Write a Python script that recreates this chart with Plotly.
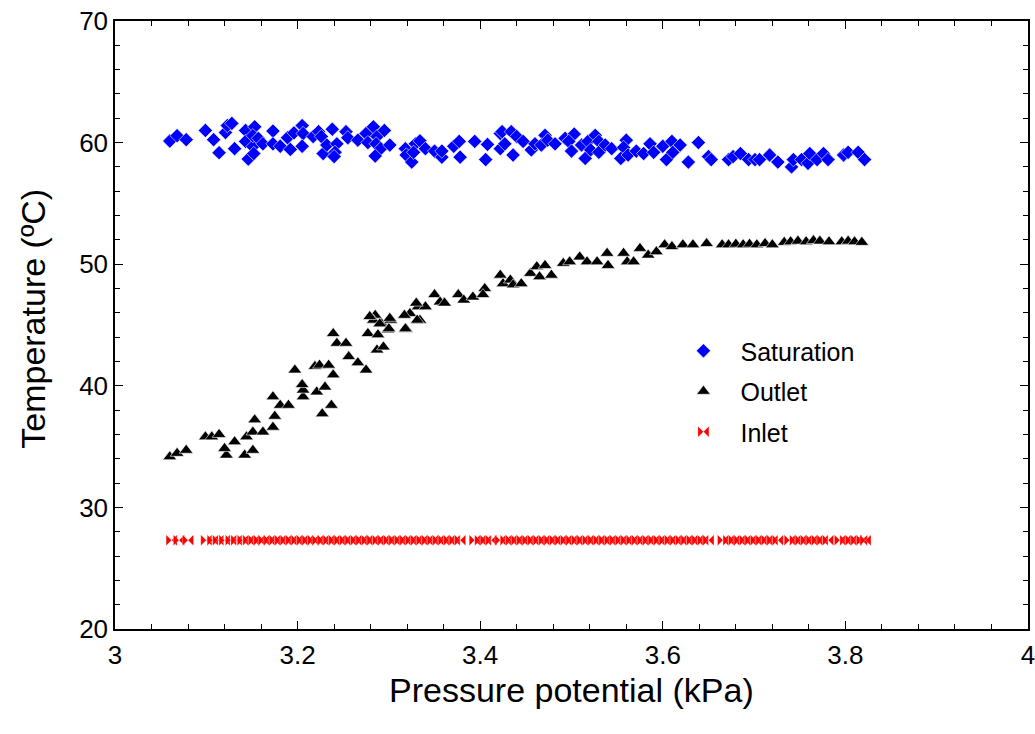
import plotly.graph_objects as go

# Saturation temperature (blue diamonds)
sat_x = [3.060, 3.068, 3.078, 3.099, 3.108, 3.114, 3.121, 3.123, 3.128, 3.131, 3.143, 3.143, 3.146, 3.151,
         3.152, 3.153, 3.151, 3.157, 3.162, 3.173, 3.173, 3.181, 3.189, 3.192, 3.196, 3.205, 3.206, 3.205,
         3.217, 3.223, 3.226, 3.228, 3.232, 3.238, 3.243, 3.241, 3.240, 3.253, 3.255, 3.266, 3.275, 3.283,
         3.277, 3.287, 3.295, 3.286, 3.291, 3.285, 3.301, 3.318, 3.319, 3.325, 3.329, 3.334, 3.327, 3.340,
         3.350, 3.358, 3.358, 3.371, 3.377, 3.378, 3.394, 3.406, 3.408, 3.422, 3.422, 3.424, 3.434, 3.427,
         3.436, 3.440, 3.447, 3.456, 3.460, 3.471, 3.467, 3.474, 3.482, 3.493, 3.503, 3.497, 3.500, 3.511,
         3.515, 3.518, 3.526, 3.521, 3.530, 3.530, 3.537, 3.544, 3.560, 3.557, 3.554, 3.562, 3.571, 3.579,
         3.586, 3.590, 3.600, 3.610, 3.604, 3.611, 3.619, 3.628, 3.639, 3.650, 3.653, 3.672, 3.677, 3.685,
         3.694, 3.701, 3.706, 3.717, 3.726, 3.741, 3.743, 3.752, 3.759, 3.761, 3.769, 3.776, 3.781, 3.798,
         3.803, 3.814, 3.821]
sat_y = [60.13, 60.57, 60.24, 61.00, 60.24, 59.17, 60.83, 61.40, 61.58, 59.50, 61.00, 60.10, 58.65, 59.67,
         59.10, 61.30, 60.57, 60.35, 59.90, 60.95, 59.90, 59.70, 60.40, 59.44, 60.80, 61.40, 60.75, 59.70,
         60.50, 60.90, 60.50, 59.10, 59.80, 61.10, 59.90, 59.20, 58.85, 60.90, 60.40, 60.20, 60.75, 61.30,
         60.00, 60.50, 61.00, 59.90, 59.50, 58.90, 59.80, 59.50, 58.98, 58.40, 59.90, 60.15, 59.20, 59.50,
         59.30, 58.80, 59.30, 59.70, 60.10, 58.80, 60.10, 58.60, 59.85, 60.75, 59.50, 60.90, 60.90, 59.90,
         58.98, 60.50, 60.10, 59.40, 59.90, 60.60, 59.80, 60.20, 59.90, 60.35, 60.70, 60.10, 59.30, 59.80,
         58.70, 60.10, 60.60, 59.40, 60.10, 59.20, 59.80, 59.50, 60.20, 59.60, 58.70, 58.98, 59.30, 59.10,
         59.90, 59.20, 59.70, 60.10, 58.60, 59.20, 59.80, 58.40, 60.00, 58.85, 58.60, 58.60, 58.85, 59.10,
         58.60, 58.60, 58.60, 58.98, 58.40, 58.00, 58.60, 58.60, 58.30, 59.10, 58.60, 59.10, 58.60, 58.98,
         59.20, 59.20, 58.60]

# Outlet temperature (black triangles)
out_x = [3.060, 3.068, 3.078, 3.099, 3.106, 3.114, 3.122, 3.120, 3.131, 3.142, 3.151, 3.144, 3.151, 3.162,
         3.153, 3.173, 3.175, 3.173, 3.181, 3.190, 3.197, 3.206, 3.206, 3.205, 3.221, 3.230, 3.227, 3.237,
         3.219, 3.224, 3.234, 3.239, 3.239, 3.243, 3.253, 3.256, 3.266, 3.275, 3.285, 3.283, 3.292, 3.302,
         3.277, 3.288, 3.299, 3.287, 3.294, 3.319, 3.323, 3.332, 3.334, 3.340, 3.360, 3.279, 3.290, 3.301,
         3.300, 3.318, 3.317, 3.330, 3.331, 3.350, 3.356, 3.361, 3.376, 3.382, 3.392, 3.405, 3.403, 3.422,
         3.425, 3.433, 3.436, 3.445, 3.455, 3.462, 3.471, 3.465, 3.478, 3.491, 3.498, 3.509, 3.517, 3.528,
         3.539, 3.540, 3.557, 3.561, 3.568, 3.575, 3.584, 3.593, 3.602, 3.610, 3.622, 3.633, 3.648, 3.665,
         3.672, 3.680, 3.688, 3.695, 3.703, 3.712, 3.720, 3.733, 3.740, 3.748, 3.757, 3.765, 3.772, 3.782,
         3.796, 3.803, 3.810, 3.818]
out_y = [34.17, 34.45, 34.70, 35.80, 35.80, 36.00, 34.30, 34.85, 35.40, 34.30, 34.70, 35.80, 36.20, 36.20,
         37.20, 36.60, 37.50, 39.10, 38.40, 38.40, 41.30, 39.10, 39.65, 40.10, 39.50, 39.90, 37.70, 38.40,
         41.60, 41.70, 41.70, 40.90, 44.30, 43.50, 43.50, 42.40, 41.90, 41.30, 45.80, 45.40, 45.10, 45.40,
         44.30, 44.20, 44.60, 42.95, 43.20, 44.65, 45.95, 46.50, 45.40, 46.50, 46.80, 45.70, 45.10, 45.55,
         44.70, 44.70, 45.80, 46.80, 45.40, 47.50, 46.90, 46.80, 47.50, 47.05, 47.30, 48.00, 47.50, 49.10,
         48.40, 48.70, 48.30, 48.40, 49.25, 49.80, 49.90, 48.97, 49.10, 50.07, 50.20, 50.60, 50.20, 50.20,
         50.90, 49.90, 50.90, 50.20, 50.20, 51.30, 50.75, 51.03, 51.60, 51.45, 51.60, 51.60, 51.70, 51.60,
         51.60, 51.65, 51.60, 51.65, 51.60, 51.70, 51.60, 51.80, 51.85, 51.90, 51.85, 51.95, 51.90, 51.85,
         51.85, 51.90, 51.85, 51.80]

# Inlet temperature (red bowties)
inlet_x = [3.062, 3.070, 3.080,
           3.100, 3.107, 3.113, 3.120, 3.127, 3.133, 3.140, 3.146, 3.152, 3.158, 3.163, 3.169, 3.175,
           3.181, 3.187, 3.193, 3.199, 3.205, 3.211, 3.217, 3.222, 3.228, 3.234, 3.240, 3.246, 3.252,
           3.258, 3.264, 3.270, 3.276, 3.282, 3.288, 3.294, 3.300, 3.306, 3.312, 3.318, 3.324, 3.330,
           3.336, 3.342, 3.348, 3.354, 3.360, 3.366, 3.372, 3.378,
           3.394, 3.400, 3.406, 3.412,
           3.422, 3.428, 3.434, 3.440, 3.446, 3.452, 3.458, 3.464, 3.470, 3.476, 3.482, 3.488, 3.494,
           3.500, 3.506, 3.512, 3.518, 3.524, 3.530, 3.536, 3.542, 3.548, 3.554, 3.560, 3.566, 3.572,
           3.578, 3.584, 3.590, 3.596, 3.602, 3.608, 3.614, 3.620, 3.626, 3.632, 3.638, 3.644, 3.650,
           3.666, 3.672, 3.678, 3.684, 3.690, 3.696, 3.702, 3.708, 3.714, 3.720, 3.726,
           3.739, 3.745, 3.751, 3.757, 3.763, 3.769, 3.775, 3.781,
           3.794, 3.800, 3.806, 3.812, 3.818, 3.822]
inlet_y = [27.3] * len(inlet_x)

x_ticks = [3, 3.2, 3.4, 3.6, 3.8, 4]
x_tick_labels = ["3", "3.2", "3.4", "3.6", "3.8", "4"]
y_ticks = [20, 30, 40, 50, 60, 70]

FONT = "Arial, Liberation Sans, sans-serif"

fig = go.Figure()
fig.add_trace(go.Scatter(
    x=sat_x, y=sat_y, mode="markers", name="Saturation", legendgroup="a",
    marker=dict(symbol="diamond", size=11, color="#0000FF", line=dict(color="white", width=0.6)),
))
fig.add_trace(go.Scatter(
    x=out_x, y=out_y, mode="markers", name="Outlet", legendgroup="b",
    marker=dict(symbol="triangle-up", size=12, color="black", line=dict(color="white", width=0.6)),
))
fig.add_trace(go.Scatter(
    x=inlet_x, y=inlet_y, mode="markers", name="Inlet", legendgroup="c",
    marker=dict(symbol="bowtie", size=11, color="#FF0000", line=dict(color="white", width=0.3)),
))

axis_common = dict(
    showgrid=False, zeroline=False, showline=True, linecolor="black", linewidth=1.5,
    mirror="allticks", ticks="inside", ticklen=8, tickwidth=1.2, tickcolor="black",
    tickfont=dict(family=FONT, size=26, color="black"), automargin=False,
    ticklabeloverflow="allow",
)

fig.update_xaxes(
    range=[3, 4], tickvals=x_ticks, ticktext=x_tick_labels,
    minor=dict(ticks="inside", dtick=0.04, ticklen=5, tickcolor="black", tickwidth=1),
    ticklabelstandoff=2,
    **axis_common,
)
fig.update_yaxes(
    range=[20, 70], tickvals=y_ticks,
    minor=dict(ticks="inside", dtick=2, ticklen=5, tickcolor="black", tickwidth=1),
    ticklabelstandoff=0,
    **axis_common,
)

fig.add_annotation(
    text="Pressure potential (kPa)", xref="paper", yref="paper",
    x=0.5, y=-0.101, xanchor="center", yanchor="middle", showarrow=False,
    font=dict(family=FONT, size=34, color="black"),
)
fig.add_annotation(
    text="Temperature (ºC)", xref="paper", yref="paper", textangle=-90,
    x=-0.09, y=0.51, xanchor="center", yanchor="middle", showarrow=False,
    font=dict(family=FONT, size=34, color="black"),
)

fig.update_layout(
    width=1035, height=734,
    margin=dict(l=115, r=7, t=21, b=105, autoexpand=False),
    paper_bgcolor="white", plot_bgcolor="white",
    font=dict(family=FONT, color="black"),
    legend=dict(
        x=0.604, y=0.495, xanchor="left", yanchor="top",
        font=dict(family=FONT, size=25, color="black"),
        bgcolor="rgba(0,0,0,0)", tracegroupgap=5, traceorder="grouped",
        itemwidth=64,
    ),
)

fig.write_html("out.html", config={"displayModeBar": False},
               post_script="document.body.style.margin='0';")
